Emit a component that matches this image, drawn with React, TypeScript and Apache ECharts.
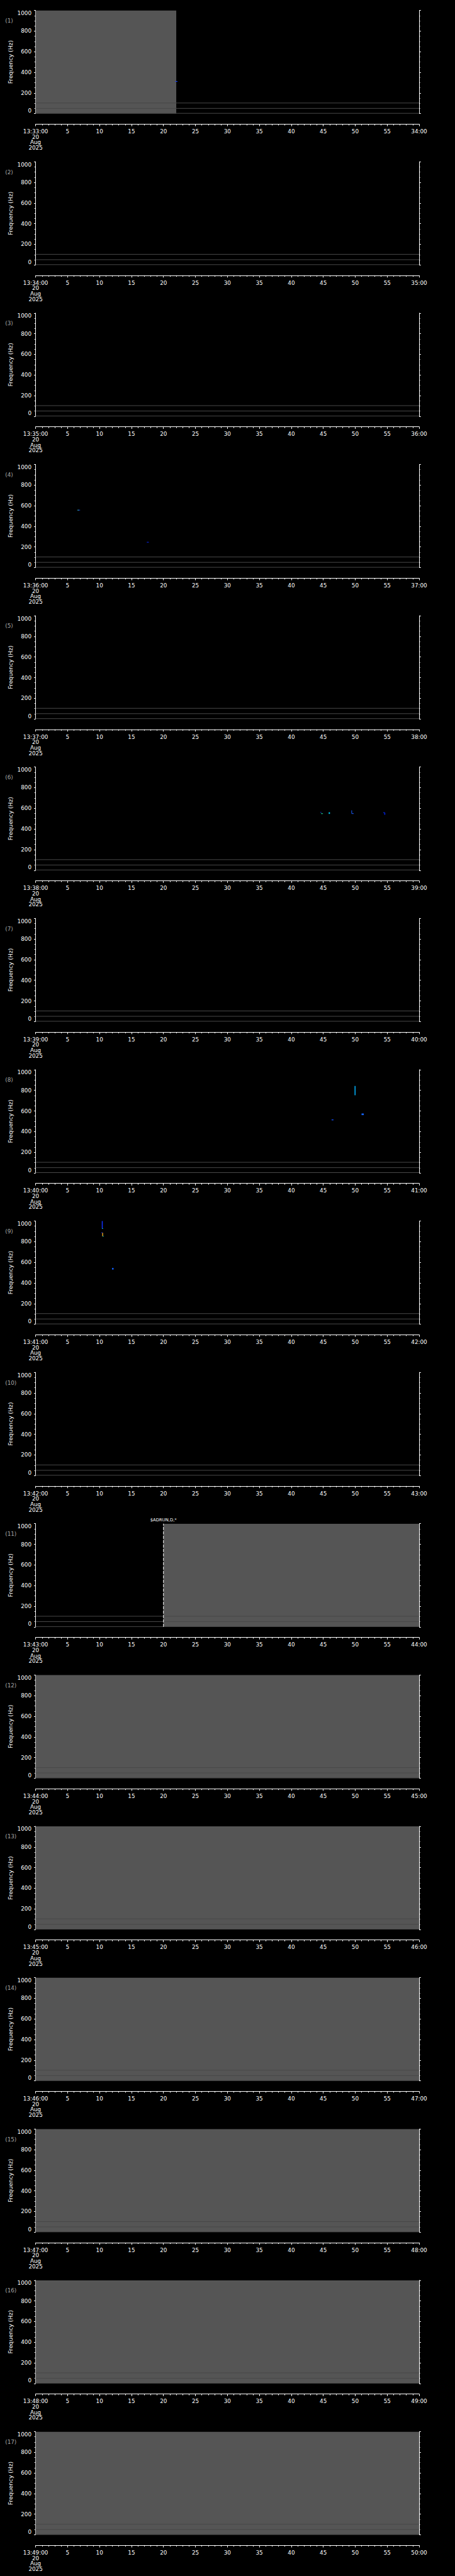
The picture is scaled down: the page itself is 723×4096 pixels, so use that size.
import React, { useEffect, useRef } from 'react';
import * as echarts from 'echarts';

// ---------------- data ----------------
const PANEL_START_LABELS = ['13:33:00', '13:34:00', '13:35:00', '13:36:00', '13:37:00', '13:38:00', '13:39:00', '13:40:00', '13:41:00', '13:42:00', '13:43:00', '13:44:00', '13:45:00', '13:46:00', '13:47:00', '13:48:00', '13:49:00'];
const PANEL_END_LABELS = ['34:00', '35:00', '36:00', '37:00', '38:00', '39:00', '40:00', '41:00', '42:00', '43:00', '44:00', '45:00', '46:00', '47:00', '48:00', '49:00', '50:00'];
const DATE_LINES = ['20', 'Aug', '2025'];
const PANEL_NAMES = ['(1)', '(2)', '(3)', '(4)', '(5)', '(6)', '(7)', '(8)', '(9)', '(10)', '(11)', '(12)', '(13)', '(14)', '(15)', '(16)', '(17)'];
const Y_TITLE = 'Frequency (Hz)';

// no-data (gray) blocks: [panel, tStart s, tEnd s]
const NO_DATA: [number, number, number][] = [
  [0, 0, 22],
  [10, 20, 60],
  [11, 0, 60],
  [12, 0, 60],
  [13, 0, 60],
  [14, 0, 60],
  [15, 0, 60],
  [16, 0, 60],
];

// spectral spots: [panel, t0, t1, f0 Hz, f1 Hz, colour]
const SPOTS: [number, number, number, number, number, string][] = [
  [0, 21.85, 22.2, 310, 315, '#1040ff'],
  [3, 6.55, 6.75, 556, 560, '#40e8ff'],
  [3, 6.75, 6.95, 556, 560, '#2040ff'],
  [3, 17.4, 17.7, 243, 249, '#0a28ff'],
  [5, 44.55, 44.7, 558, 565, '#0a2cc8'],
  [5, 44.65, 44.95, 546, 552, '#20e0a0'],
  [5, 45.85, 46.05, 546, 562, '#00c8f0'],
  [5, 49.4, 49.5, 550, 580, '#1a5cff'],
  [5, 49.45, 49.75, 546, 552, '#1a5cff'],
  [5, 54.4, 54.6, 555, 562, '#0030ff'],
  [5, 54.55, 54.7, 537, 558, '#0020e0'],
  [7, 49.9, 50.05, 753, 842, '#00b4ff'],
  [7, 50.99, 51.34, 560, 576, '#1464ff'],
  [7, 46.3, 46.6, 510, 518, '#1450ff'],
  [8, 10.35, 10.5, 928, 1000, '#1030ff'],
  [8, 10.4, 10.55, 924, 930, '#00d0d0'],
  [8, 10.3, 10.45, 882, 890, '#1030ff'],
  [8, 10.42, 10.55, 852, 885, '#ffb020'],
  [8, 10.5, 10.65, 850, 856, '#00d8c8'],
  [8, 11.95, 12.2, 530, 545, '#1060ff'],
];

// horizontal reference lines (Hz)
const REF_LINES = [0, 48, 100];

// event markers: [panel, t s, label]
const EVENTS: [number, number, string][] = [[10, 20, '$ADRUN,D,*']];

const X_MIN = 0;
const X_MAX = 60;
const Y_MIN = 0;
const Y_MAX = 1000;

// ---------------- layout ----------------
const S = 0.705;
const N = 17;
const PANEL_STEP = 341.3 * S;
const GRID_TOP0 = 23.5 * S;
const GRID_H = 232.8 * S;
const GRID_LEFT = 80.3 * S;
const GRID_W = (944.7 - 80.3) * S;
const FONT = 'DejaVu Sans';
const FS = 8.8;

function buildOption() {
  const grids: any[] = [];
  const xAxes: any[] = [];
  const yAxes: any[] = [];
  const series: any[] = [];
  const graphics: any[] = [];

  for (let i = 0; i < N; i++) {
    const top = GRID_TOP0 + i * PANEL_STEP;
    grids.push({ left: GRID_LEFT, top, width: GRID_W, height: GRID_H, outerBoundsMode: 'none', containLabel: false, show: false });
    const startLabel = PANEL_START_LABELS[i];
    const endLabel = PANEL_END_LABELS[i];
    xAxes.push({
      type: 'value', gridIndex: i, min: X_MIN, max: X_MAX, interval: 5, position: 'bottom', offset: 16.6,
      axisLine: { show: true, onZero: false, lineStyle: { color: '#fff', width: 1 } },
      axisTick: { show: true, length: 3.4, lineStyle: { color: '#fff', width: 1 } },
      minorTick: { show: true, splitNumber: 5, length: 2.1, lineStyle: { color: '#fff', width: 1 } },
      splitLine: { show: false }, minorSplitLine: { show: false },
      axisLabel: {
        show: true, color: '#fff', fontFamily: FONT, fontSize: FS, lineHeight: 8.7, margin: 7.4,
        formatter: (v: number) => (v === X_MIN ? [startLabel, ...DATE_LINES].join('\n') : v === X_MAX ? endLabel : String(v)),
      },
    });
    const yBase = {
      type: 'value', gridIndex: i, min: Y_MIN, max: Y_MAX, interval: 200,
      axisLine: { show: true, onZero: false, lineStyle: { color: '#fff', width: 1 } },
      splitLine: { show: false }, minorSplitLine: { show: false },
    };
    yAxes.push({
      ...yBase, position: 'left',
      axisTick: { show: true, length: 2.6, lineStyle: { color: '#fff', width: 1 } },
      minorTick: { show: true, splitNumber: 4, length: 1.9, lineStyle: { color: '#fff', width: 1 } },
      axisLabel: {
        show: true, color: '#fff', fontFamily: FONT, fontSize: FS, margin: 6.6,
        verticalAlignMaxLabel: 'top', verticalAlignMinLabel: 'bottom',
        formatter: (v: number) => String(v),
      },
    });
    yAxes.push({
      ...yBase, position: 'right',
      axisTick: { show: true, length: 2.8, lineStyle: { color: '#fff', width: 1 } },
      minorTick: { show: true, splitNumber: 4, length: 1.6, lineStyle: { color: '#fff', width: 1 } },
      axisLabel: { show: false },
    });

    const xi = i;
    const yi = i * 2;

    // gray no-data blocks
    series.push({
      type: 'custom', xAxisIndex: xi, yAxisIndex: yi, z: 1, silent: true, clip: true,
      data: NO_DATA.filter((d) => d[0] === i).map((d) => [d[1], d[2]]),
      renderItem: (params: any, api: any) => {
        const a = api.coord([api.value(0), Y_MAX]);
        const b = api.coord([api.value(1), Y_MIN]);
        return { type: 'rect', shape: { x: a[0], y: a[1], width: b[0] - a[0], height: b[1] - a[1] }, style: { fill: '#555555' } };
      },
    });

    // spots
    series.push({
      type: 'custom', xAxisIndex: xi, yAxisIndex: yi, z: 2, silent: true,
      data: SPOTS.filter((d) => d[0] === i).map((d) => ({ value: [d[1], d[2], d[3], d[4]], itemStyle: { color: d[5] } })),
      renderItem: (params: any, api: any) => {
        const a = api.coord([api.value(0), api.value(3)]);
        const b = api.coord([api.value(1), api.value(2)]);
        return {
          type: 'rect',
          shape: { x: a[0], y: a[1], width: Math.max(b[0] - a[0], 1), height: Math.max(b[1] - a[1], 1) },
          style: { fill: api.visual('color') },
        };
      },
    });

    // reference lines
    series.push({
      type: 'custom', xAxisIndex: xi, yAxisIndex: yi, z: 3, silent: true,
      data: REF_LINES.map((f) => [f]),
      renderItem: (params: any, api: any) => {
        const a = api.coord([X_MIN, api.value(0)]);
        const b = api.coord([X_MAX, api.value(0)]);
        return { type: 'line', shape: { x1: a[0], y1: a[1] - 0.5, x2: b[0], y2: b[1] - 0.5 }, style: { stroke: '#484848', lineWidth: 1 } };
      },
    });

    // events
    const evs = EVENTS.filter((e) => e[0] === i);
    if (evs.length) {
      series.push({
        type: 'custom', xAxisIndex: xi, yAxisIndex: yi, z: 4, silent: true, clip: false,
        data: evs.map((e) => ({ value: [e[1]], name: e[2] })),
        renderItem: (params: any, api: any) => {
          const a = api.coord([api.value(0), Y_MIN]);
          const b = api.coord([api.value(0), Y_MAX]);
          const label = evs[params.dataIndex][2];
          return {
            type: 'group',
            children: [
              { type: 'line', shape: { x1: a[0], y1: a[1], x2: b[0], y2: b[1] }, style: { stroke: '#fff', lineWidth: 1, lineDash: [5, 2] } },
              { type: 'text', x: b[0], y: b[1] - 6, style: { text: label, fill: '#fff', font: `6.8px "${FONT}"`, align: 'center', verticalAlign: 'middle' } },
            ],
          };
        },
      });
    }

    graphics.push({
      type: 'text', x: 8.2, y: top + 16.4,
      style: { text: PANEL_NAMES[i], fill: '#a8a8a8', font: `${FS}px "${FONT}"`, align: 'left', verticalAlign: 'middle' },
    });
    graphics.push({
      type: 'text', x: 16.4, y: top + GRID_H / 2, rotation: Math.PI / 2,
      style: { text: Y_TITLE, fill: '#fff', font: `9.2px "${FONT}"`, align: 'center', verticalAlign: 'middle' },
    });
  }

  return {
    animation: false,
    backgroundColor: '#000',
    grid: grids,
    xAxis: xAxes,
    yAxis: yAxes,
    series,
    graphic: { elements: graphics },
  };
}

export default function App() {
  const ref = useRef<HTMLDivElement>(null);
  useEffect(() => {
    document.body.style.margin = '0';
    document.body.style.background = '#000';
    const chart = echarts.init(ref.current as HTMLDivElement, null, { renderer: 'svg' });
    chart.setOption(buildOption() as any);
    return () => chart.dispose();
  }, []);
  return <div ref={ref} style={{ position: 'absolute', left: 0, top: 0, width: 723, height: 4096, background: '#000' }} />;
}
